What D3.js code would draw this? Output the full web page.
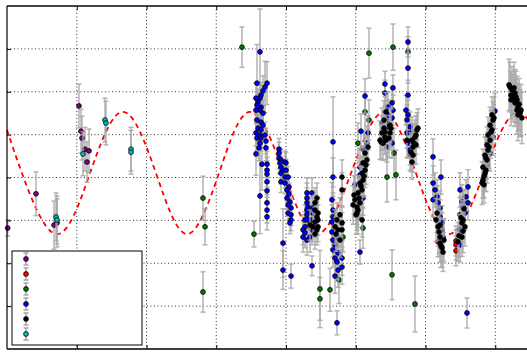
<!DOCTYPE html>
<html>
<head>
<meta charset="utf-8">
<script src="https://cdn.jsdelivr.net/npm/d3@7"></script>
<style>
  body { margin: 0; background: #fff; }
  svg { display: block; }
</style>
</head>
<body>
<div id="chart"></div>
<script>
// each point: [time, magnitude, error]
let purplePts = [[0.1,5.18,0.19],[4.16,4.38,0.51],[6.74,5.11,0.56],[7.17,5.06,0.56],[10.32,2.33,0.51],
  [10.61,2.92,0.51],[10.75,3.08,0.51],[11.18,3.34,0.51],[11.76,3.38,0.51],[11.47,3.64,0.47]];

let redPts = [[64.37,5.48,0.35],[64.37,5.57,0.35],[64.37,5.71,0.35],[57.78,3.48,0.35],[61.79,5.50,0.35]];

let greenPts = [[28.10,4.48,0.51],[28.39,5.15,0.42],[28.10,6.67,0.47],[33.69,0.96,0.47],[35.41,5.32,0.30],
  [51.90,1.10,0.58],[55.34,0.96,0.54],[57.49,1.07,0.35],[51.33,2.47,0.47],[51.90,2.66,0.47],[50.32,3.20,0.47],
  [51.04,5.18,0.47],[54.48,3.99,0.58],[55.77,3.94,0.58],[55.48,3.43,0.58],[55.20,6.27,0.58],[58.49,6.95,0.65],
  [44.87,6.60,0.9],[44.87,6.83,0.5],[46.31,6.62,0.5],[47.60,6.39,0.55],[48.17,5.39,0.35]];

let bluePts = [
  // first bright peak
  [36.27,1.07,1.0],[35.84,1.80,0.9],[37.28,1.80,0.5],[36.99,1.89,0.6],[36.70,1.98,0.35],[36.42,2.08,0.3],
  [36.27,2.15,0.3],[35.99,2.24,0.3],[35.70,2.15,0.35],[35.84,2.31,0.3],[36.42,2.36,0.3],[36.27,2.43,0.3],
  [35.70,2.43,0.3],[36.70,2.50,0.3],[35.84,2.66,0.3],[36.42,2.71,0.3],[36.70,2.78,0.3],[35.99,2.85,0.3],
  [36.42,2.89,0.3],[35.70,2.96,0.3],[36.27,3.01,0.3],[36.99,3.01,0.3],[35.84,3.08,0.3],[36.42,3.08,0.3],
  [37.13,3.15,0.3],[36.27,3.20,0.3],[36.13,3.31,0.3],[37.13,3.31,0.3],[35.70,3.45,0.5],[36.56,3.69,0.6],
  [37.28,3.69,0.3],[37.28,3.83,0.3],[37.28,3.92,0.3],[37.28,4.10,0.3],[37.28,4.31,0.3],[36.27,4.43,0.88],
  [37.28,4.59,0.3],[37.28,4.76,0.3],[37.28,4.92,0.3],
  // decline
  [39.00,3.34,0.25],[39.00,3.43,0.25],[39.00,3.55,0.25],[39.28,3.59,0.25],[39.86,3.64,0.25],[40.00,3.66,0.25],
  [39.14,3.66,0.25],[39.28,3.76,0.25],[39.57,3.83,0.25],[40.00,3.83,0.25],[39.28,3.90,0.25],[39.86,3.99,0.25],
  [40.29,3.99,0.25],[39.28,4.10,0.25],[39.86,4.13,0.25],[40.43,4.22,0.25],[40.14,4.29,0.25],[40.43,4.38,0.25],
  [40.14,4.48,0.25],[40.57,4.57,0.25],[40.29,4.64,0.25],[40.72,4.71,0.25],[40.29,4.83,0.25],[40.72,4.87,0.25],
  [40.72,4.99,0.25],[40.57,5.06,0.25],[39.57,5.53,0.8],[39.57,6.16,0.45],[40.72,6.30,0.28],
  // first minimum
  [43.01,4.36,0.35],[43.01,4.48,0.35],[43.01,4.59,0.35],[43.15,4.69,0.35],[43.01,4.76,0.35],[43.01,4.87,0.35],
  [42.72,4.99,0.35],[43.15,4.99,0.35],[42.72,5.15,0.35],[42.44,5.22,0.35],[42.72,5.29,0.35],[42.44,5.39,0.35],
  [43.01,5.46,0.35],[43.73,5.22,0.35],[43.44,5.39,0.35],[43.73,4.99,0.35],[43.44,4.80,0.35],[43.87,4.71,0.35],
  [43.87,4.83,0.35],[43.73,4.36,0.35],[43.73,6.06,0.23],
  [46.74,3.17,1.05],[46.74,3.99,0.45],[46.59,4.52,0.4],[46.74,4.76,0.4],[46.74,4.92,0.4],[46.59,5.04,0.4],
  [46.59,5.27,0.4],[47.31,5.39,0.4],[46.74,5.46,0.4],[47.03,5.57,0.4],[46.74,5.69,0.4],[47.46,5.76,0.4],
  [47.03,5.88,0.4],[47.31,5.97,0.4],[48.03,5.88,0.4],[48.03,6.09,0.4],[47.03,6.30,0.4],[47.46,6.16,0.4],
  [47.31,7.39,0.28],
  // rise and second peak
  [50.61,3.76,0.4],[51.61,3.20,0.4],[50.75,2.92,0.4],[51.76,2.96,0.4],[51.33,2.10,0.4],[50.32,4.92,0.4],
  [50.61,5.74,0.28],[49.89,4.17,0.4],[50.61,3.94,0.4],[51.18,3.36,0.4],[51.04,4.48,0.4],
  [54.19,1.82,0.3],[54.19,2.03,0.3],[55.34,1.91,0.3],[54.62,2.36,0.35],[55.20,2.26,0.35],[54.62,2.54,0.35],
  [53.76,2.73,0.35],[54.48,2.82,0.35],[55.20,2.61,0.35],[55.34,2.43,0.35],[54.62,2.66,0.35],[55.20,3.20,0.35],
  [54.48,3.29,0.35],
  [57.20,2.43,0.35],[57.49,2.08,0.35],[57.49,0.84,0.35],[57.49,1.45,0.35],[57.49,2.54,0.35],[57.35,2.66,0.35],
  [57.78,2.82,0.35],[57.35,2.96,0.35],[58.06,2.94,0.35],[57.49,3.20,0.35],[57.78,3.36,0.35],
  // second minimum
  [61.08,3.52,0.42],[62.22,3.99,0.4],[61.08,4.13,0.4],[61.36,4.29,0.4],[61.65,4.45,0.4],[61.08,4.52,0.4],
  [61.79,4.59,0.4],[62.08,4.71,0.4],[62.08,4.92,0.4],[62.37,5.06,0.4],[62.37,5.22,0.4],[62.51,5.39,0.4],
  [66.09,4.22,0.4],[64.95,4.29,0.4],[65.81,4.45,0.4],[65.23,4.57,0.4],[66.09,4.59,0.4],[65.38,4.69,0.4],
  [65.66,4.83,0.4],[64.95,4.87,0.4],[64.95,5.22,0.4],[64.95,5.57,0.4],[65.95,7.16,0.35],
  [69.96,2.45,0.42],[68.82,3.71,0.42],[69.25,3.43,0.42],[69.68,3.06,0.42]
];

let blackPts = [
  [44.16,4.76,0.35],[44.44,4.92,0.35],[44.59,4.83,0.35],[44.16,5.04,0.35],[44.59,5.15,0.35],[43.87,5.15,0.35],
  [44.44,5.22,0.35],[44.59,4.99,0.35],[44.16,4.59,0.35],[44.44,4.48,0.35],[43.44,5.11,0.35],[44.16,5.32,0.35],
  [48.03,3.99,0.4],[48.03,4.29,0.4],[47.31,4.99,0.4],[47.74,4.87,0.4],[47.03,5.15,0.4],[47.46,5.22,0.4],
  [48.03,5.06,0.4],[48.03,5.22,0.4],[47.74,5.46,0.4],[47.17,5.32,0.4],
  [49.89,4.52,0.4],[50.18,4.69,0.4],[50.32,4.76,0.4],[50.61,4.59,0.4],[50.32,4.36,0.4],[50.90,4.29,0.4],
  [50.61,4.13,0.4],[51.04,4.06,0.4],[50.90,3.90,0.4],[51.33,3.83,0.4],[51.04,3.66,0.4],[51.61,3.59,0.4],
  [51.33,3.43,0.4],[51.76,3.29,0.4],[50.18,4.83,0.4],[50.90,4.99,0.4],
  [49.61,4.64,0.45],[50.04,4.87,0.45],[50.47,4.48,0.45],[50.75,4.20,0.45],[51.18,3.97,0.45],[51.47,3.71,0.45],
  [49.75,4.41,0.45],
  [53.76,2.96,0.4],[54.19,3.06,0.4],[54.91,2.96,0.4],[53.91,3.20,0.4],[53.62,3.17,0.4],[54.19,2.94,0.4],
  [54.91,2.78,0.4],[54.05,2.85,0.4],[53.48,3.13,0.45],[54.33,3.13,0.45],[54.76,3.08,0.45],[55.05,2.85,0.45],
  [54.05,2.66,0.45],[54.33,2.47,0.45],
  [58.78,2.89,0.4],[58.49,3.06,0.4],[58.06,3.13,0.4],[58.21,3.29,0.4],[58.21,3.48,0.4],[58.06,3.64,0.4],
  [57.35,3.13,0.4],[58.64,3.01,0.45],[58.92,2.85,0.45],[58.35,3.20,0.45],[57.92,3.41,0.45],[58.64,3.24,0.45],
  [61.65,4.83,0.45],[61.79,5.15,0.45],[62.08,5.39,0.45],[62.08,5.53,0.45],[62.37,5.64,0.45],[62.51,5.74,0.45],
  [65.38,4.99,0.45],[65.23,5.06,0.45],[65.66,5.15,0.45],[65.23,5.39,0.45],[64.66,5.50,0.45],[62.08,5.11,0.45],
  [65.52,4.73,0.45],[61.94,5.27,0.5],[62.22,5.60,0.5],[62.65,5.46,0.5],[65.09,4.94,0.5],[65.38,5.25,0.5],
  [64.80,5.36,0.5],[61.51,4.99,0.5],
  [68.24,4.06,0.42],[68.53,3.90,0.42],[68.24,3.76,0.42],[68.82,3.59,0.42],[68.53,3.48,0.42],[68.96,3.36,0.42],
  [68.82,3.24,0.42],[69.25,3.13,0.42],[68.96,3.01,0.42],[69.53,2.89,0.42],[69.25,2.78,0.42],[69.68,2.66,0.42],
  [69.53,2.54,0.42],[68.39,4.17,0.42],[68.10,4.13,0.5],[68.67,3.83,0.5],[69.10,3.29,0.5],[69.39,2.94,0.5],
  [69.82,2.61,0.5],[68.67,3.55,0.5],[68.39,3.97,0.5],
  [72.11,1.89,0.58],[72.40,1.96,0.55],[72.83,2.03,0.55],[73.12,2.19,0.55],[72.83,2.26,0.55],[73.26,2.36,0.55],
  [73.12,2.43,0.55],[73.55,2.50,0.55],[72.54,2.15,0.55],[72.26,2.08,0.55],[71.97,1.84,0.6],[72.69,1.91,0.6],
  [72.97,2.12,0.6],[73.41,2.29,0.6],[73.69,2.43,0.6],[72.26,2.19,0.6],[73.26,2.54,0.6],[73.83,2.61,0.6]
];

let cyanPts = [[7.03,4.92,0.56],[7.17,4.99,0.56],[10.90,3.45,0.51],[14.05,2.66,0.51],[14.19,2.73,0.51],
  [17.78,3.34,0.51],[17.78,3.41,0.51]];

// model curve (extrema and mid-level crossings)
let modelPts = [[0,2.89],[2.15,3.90],[7.03,5.32],[11.90,3.90],[16.63,2.47],[21.36,3.90],[25.81,5.32],
  [30.39,3.90],[34.84,2.47],[39.71,3.90],[44.44,5.32],[49.32,3.90],[54.05,2.47],[58.64,3.90],[63.37,5.32],
  [68.39,3.90],[73.26,2.47],[77.85,3.90]];

let xTicks = [0, 10, 20, 30, 40, 50, 60, 70, 80];
let yTicks = [0, 1, 2, 3, 4, 5, 6, 7, 8];

let series = [
  { pts: purplePts, color: "#800080" },
  { pts: redPts, color: "#ff0000" },
  { pts: greenPts, color: "#007a00" },
  { pts: bluePts, color: "#0000ff" },
  { pts: blackPts, color: "#000000" },
  { pts: cyanPts, color: "#00bfbf" }
];

let width = 527, height = 352;
let plot = { left: 7, top: 6, right: 565, bottom: 349 };

let svg = d3.select("#chart").append("svg")
  .attr("width", width)
  .attr("height", height);

let x = d3.scaleLinear().domain([0, 80]).range([plot.left, plot.right]);
let y = d3.scaleLinear().domain([0, 8]).range([plot.top, plot.bottom]);

// grid
svg.append("g")
  .selectAll("line")
  .data(xTicks.slice(1, -1))
  .enter().append("line")
  .attr("x1", d => x(d)).attr("x2", d => x(d))
  .attr("y1", plot.top).attr("y2", plot.bottom)
  .attr("stroke", "#333").attr("stroke-width", 1)
  .attr("stroke-dasharray", "1,2.5");

svg.append("g")
  .selectAll("line")
  .data(yTicks.slice(1, -1))
  .enter().append("line")
  .attr("x1", plot.left).attr("x2", plot.right)
  .attr("y1", d => y(d)).attr("y2", d => y(d))
  .attr("stroke", "#333").attr("stroke-width", 1)
  .attr("stroke-dasharray", "1,2.5");

// model curve
svg.append("path")
  .datum(modelPts)
  .attr("d", d3.line().x(d => x(d[0])).y(d => y(d[1])).curve(d3.curveNatural))
  .attr("fill", "none")
  .attr("stroke", "#ff0000")
  .attr("stroke-width", 1.8)
  .attr("stroke-dasharray", "5,4");

// data with error bars, series by series
let cap = 2.5;
let barColor = "#a6a6a6";
series.forEach(s => {
  let g = svg.append("g");
  let bars = g.selectAll("g.bar").data(s.pts).enter().append("g")
    .attr("stroke", barColor).attr("stroke-width", 1.5).attr("opacity", 0.85);
  bars.append("line")
    .attr("x1", d => x(d[0])).attr("x2", d => x(d[0]))
    .attr("y1", d => y(d[1] - d[2])).attr("y2", d => y(d[1] + d[2]));
  bars.append("line")
    .attr("x1", d => x(d[0]) - cap).attr("x2", d => x(d[0]) + cap)
    .attr("y1", d => y(d[1] - d[2])).attr("y2", d => y(d[1] - d[2]));
  bars.append("line")
    .attr("x1", d => x(d[0]) - cap).attr("x2", d => x(d[0]) + cap)
    .attr("y1", d => y(d[1] + d[2])).attr("y2", d => y(d[1] + d[2]));
  g.selectAll("circle").data(s.pts).enter().append("circle")
    .attr("cx", d => x(d[0]))
    .attr("cy", d => y(d[1]))
    .attr("r", 2.4)
    .attr("fill", s.color)
    .attr("stroke", "#000")
    .attr("stroke-width", 0.8);
});

// frame
svg.append("line").attr("x1", plot.left).attr("x2", width).attr("y1", plot.top).attr("y2", plot.top)
  .attr("stroke", "#444").attr("stroke-width", 2);
svg.append("line").attr("x1", plot.left).attr("x2", plot.left).attr("y1", plot.top).attr("y2", plot.bottom)
  .attr("stroke", "#000").attr("stroke-width", 1.2);
svg.append("line").attr("x1", plot.left).attr("x2", width).attr("y1", plot.bottom).attr("y2", plot.bottom)
  .attr("stroke", "#000").attr("stroke-width", 1.5);

// inward ticks
svg.append("g").attr("transform", `translate(0,${plot.bottom})`)
  .call(d3.axisTop(x).tickValues(xTicks.slice(1, -1)).tickSize(4).tickFormat(""))
  .call(g => g.select(".domain").remove());
svg.append("g").attr("transform", `translate(0,${plot.top})`)
  .call(d3.axisBottom(x).tickValues(xTicks.slice(1, -1)).tickSize(4).tickFormat(""))
  .call(g => g.select(".domain").remove());
svg.append("g").attr("transform", `translate(${plot.left},0)`)
  .call(d3.axisRight(y).tickValues(yTicks.slice(1, -1)).tickSize(4).tickFormat(""))
  .call(g => g.select(".domain").remove());

// legend (markers only)
let legend = svg.append("g").attr("transform", "translate(12,251)");
legend.append("rect")
  .attr("width", 130).attr("height", 94)
  .attr("fill", "#fff").attr("stroke", "#000").attr("stroke-width", 1);
let items = legend.selectAll("g.item").data(series).enter().append("g")
  .attr("transform", (d, i) => `translate(14,${8 + i * 15})`);
items.append("line").attr("x1", 0).attr("x2", 0).attr("y1", -6).attr("y2", 6)
  .attr("stroke", barColor).attr("stroke-width", 1.5);
items.append("line").attr("x1", -cap).attr("x2", cap).attr("y1", -6).attr("y2", -6)
  .attr("stroke", barColor).attr("stroke-width", 1.5);
items.append("line").attr("x1", -cap).attr("x2", cap).attr("y1", 6).attr("y2", 6)
  .attr("stroke", barColor).attr("stroke-width", 1.5);
items.append("circle").attr("r", 2.4)
  .attr("fill", d => d.color).attr("stroke", "#000").attr("stroke-width", 0.8);
</script>
</body>
</html>
